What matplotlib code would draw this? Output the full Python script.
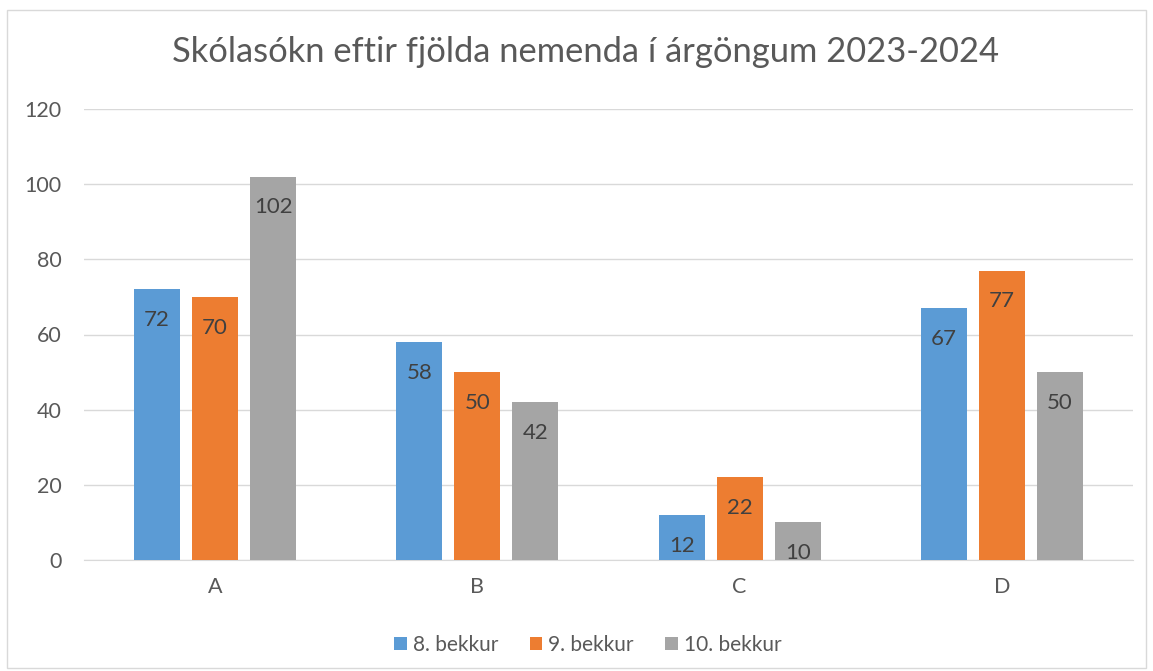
import numpy as np
import matplotlib.pyplot as plt
from matplotlib.patches import Rectangle

plt.rcParams['font.family'] = ['Lato', 'DejaVu Sans']

categories = ['A', 'B', 'C', 'D']
series_names = ['8. bekkur', '9. bekkur', '10. bekkur']
bekkur_8 = [72, 58, 12, 67]
bekkur_9 = [70, 50, 22, 77]
bekkur_10 = [102, 42, 10, 50]
colors = ['#5B9BD5', '#ED7D31', '#A5A5A5']

fig = plt.figure(figsize=(11.53, 6.71), dpi=100)
fig.patches.append(Rectangle((7 / 1153, 3 / 671), 1139 / 1153, 658 / 671,
                             transform=fig.transFigure, fill=False,
                             edgecolor='#D9D9D9', linewidth=1))
ax = fig.add_axes([84 / 1153, 1 - 560 / 671, 1049 / 1153, 451 / 671])

x = np.arange(len(categories))
width = 0.176
step = 0.221
for i, (vals, name) in enumerate(zip([bekkur_8, bekkur_9, bekkur_10], series_names)):
    bars = ax.bar(x + (i - 1) * step, vals, width, color=colors[i], label=name, zorder=3)
    for b, v in zip(bars, vals):
        ax.text(b.get_x() + b.get_width() / 2, v - 5.5, str(v), ha='center', va='top',
                fontsize=16, color='#404040', zorder=4)

ax.set_xlim(-0.5, 3.5)
ax.set_ylim(0, 120)
ax.set_yticks(range(0, 121, 20))
ax.yaxis.grid(True, color='#D9D9D9', linewidth=1, zorder=0)
ax.set_xticks(x)
ax.set_xticklabels(categories)
ax.tick_params(axis='both', length=0, labelsize=15.5, labelcolor='#595959')
ax.tick_params(axis='x', pad=12)
ax.tick_params(axis='y', pad=16)
for s in ['top', 'right', 'left']:
    ax.spines[s].set_visible(False)
ax.spines['bottom'].set_color('#D9D9D9')

fig.text(585 / 1153, 1 - 52 / 671, 'Skólasókn eftir fjölda nemenda í árgöngum 2023-2024',
         ha='center', va='center', fontsize=24.8, color='#595959')

fig.legend(loc='center', bbox_to_anchor=(588 / 1153, 1 - 645 / 671), ncol=3,
           frameon=False, fontsize=15, labelcolor='#595959', handlelength=0.6,
           handleheight=0.6, handletextpad=0.3, columnspacing=1.5)

fig.savefig('out.png', dpi=100)
